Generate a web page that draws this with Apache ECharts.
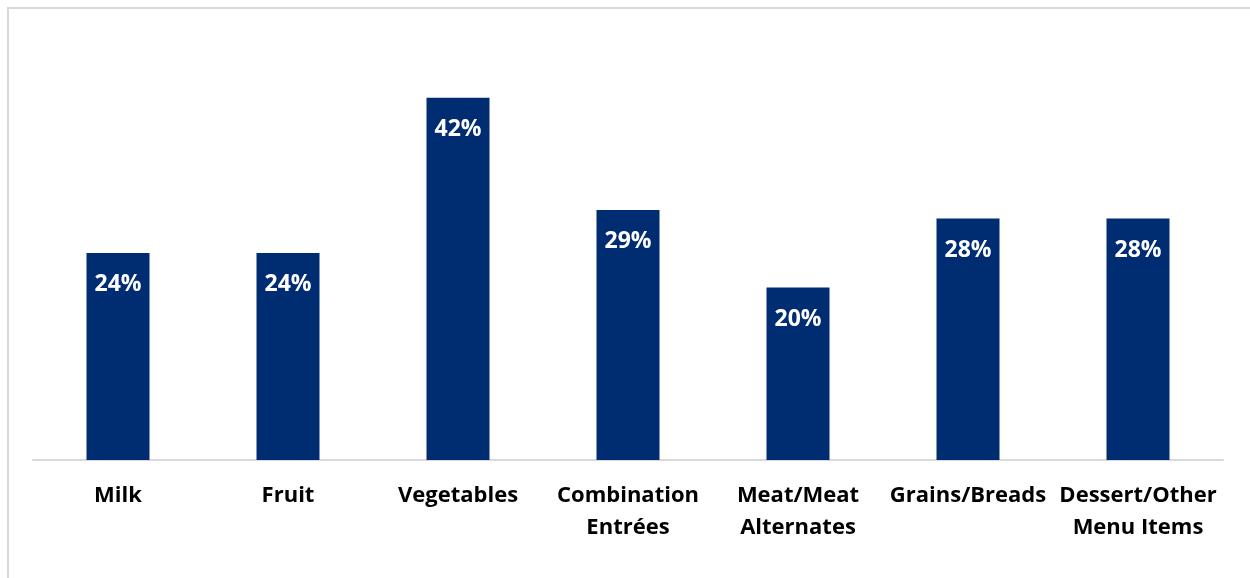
<!DOCTYPE html>
<html>
<head>
<meta charset="utf-8">
<script src="https://cdn.jsdelivr.net/npm/echarts@6/dist/echarts.min.js"></script>
<style>
  html, body { margin: 0; padding: 0; background: #ffffff; }
  #frame {
    position: absolute; left: 7px; top: 7px; right: 0; bottom: 0;
    border-left: 2px solid #d9d9d9; border-top: 2px solid #d9d9d9;
  }
  #chart { position: absolute; left: 0; top: 0; width: 1250px; height: 578px; }
</style>
</head>
<body>
<div id="frame"></div>
<div id="chart"></div>
<script>
// Share of items by menu component
const categories = ['Milk', 'Fruit', 'Vegetables', 'Combination\nEntrées', 'Meat/Meat\nAlternates', 'Grains/Breads', 'Dessert/Other\nMenu Items'];
const shares = [24, 24, 42, 29, 20, 28, 28];

const chart = echarts.init(document.getElementById('chart'), null, { renderer: 'canvas' });
chart.setOption({
  animation: false,
  grid: { left: 33, right: 27, top: 72, bottom: 118 },
  xAxis: {
    type: 'category',
    data: categories,
    axisLine: { lineStyle: { color: '#d9d9d9', width: 2 } },
    axisTick: { show: false },
    axisLabel: {
      interval: 0,
      margin: 20,
      color: '#000000',
      fontFamily: 'Open Sans',
      fontWeight: 'bold',
      fontSize: 22,
      lineHeight: 32
    }
  },
  yAxis: {
    type: 'value',
    min: 0,
    max: 45,
    show: false,
    splitLine: { show: false }
  },
  series: [{
    type: 'bar',
    data: shares,
    barWidth: 63,
    itemStyle: { color: '#002d72' },
    label: {
      show: true,
      position: 'insideTop',
      distance: 20,
      color: '#ffffff',
      fontFamily: 'Open Sans',
      fontWeight: 'bold',
      fontSize: 23,
      formatter: p => p.value + '%'
    }
  }]
});
</script>
</body>
</html>
